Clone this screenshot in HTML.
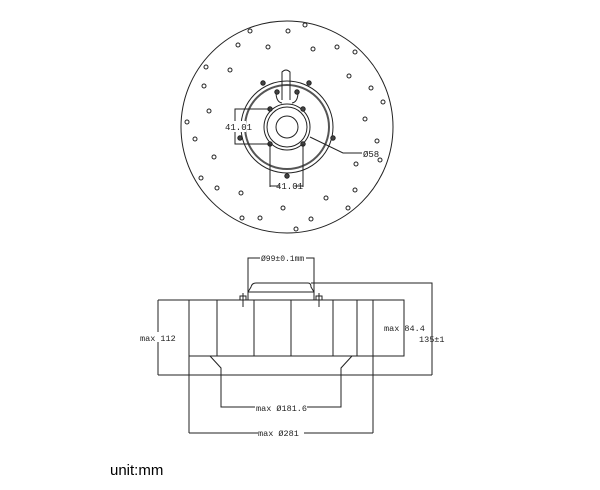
<!DOCTYPE html><html><head><style>body{margin:0;background:#fff}svg{display:block}</style></head><body>
<svg width="600" height="490" viewBox="0 0 600 490" xmlns="http://www.w3.org/2000/svg" font-family="Liberation Mono, monospace">
<g fill="none" stroke="#222" stroke-width="1">
<circle cx="287" cy="127" r="106"/>
<circle cx="287" cy="127" r="46"/>
<circle cx="287" cy="127" r="42" stroke-width="2" stroke="#555"/>
<circle cx="287" cy="127" r="23"/>
<circle cx="287" cy="127" r="20"/>
<circle cx="287" cy="127" r="11"/>
<path d="M282,100 V72 Q286,68 290,72 V100"/>
<path d="M276,92 Q276,102 282,103 M298,92 Q298,102 292,103"/>
<g fill="#fff">
<circle cx="250" cy="31" r="2"/><circle cx="288" cy="31" r="2"/><circle cx="305" cy="25" r="2"/><circle cx="238" cy="45" r="2"/><circle cx="268" cy="47" r="2"/><circle cx="313" cy="49" r="2"/><circle cx="337" cy="47" r="2"/><circle cx="355" cy="52" r="2"/><circle cx="206" cy="67" r="2"/><circle cx="230" cy="70" r="2"/><circle cx="349" cy="76" r="2"/><circle cx="204" cy="86" r="2"/><circle cx="371" cy="88" r="2"/><circle cx="383" cy="102" r="2"/><circle cx="209" cy="111" r="2"/><circle cx="365" cy="119" r="2"/><circle cx="187" cy="122" r="2"/><circle cx="195" cy="139" r="2"/><circle cx="377" cy="141" r="2"/><circle cx="380" cy="160" r="2"/><circle cx="214" cy="157" r="2"/><circle cx="356" cy="164" r="2"/><circle cx="201" cy="178" r="2"/><circle cx="217" cy="188" r="2"/><circle cx="241" cy="193" r="2"/><circle cx="355" cy="190" r="2"/><circle cx="326" cy="198" r="2"/><circle cx="283" cy="208" r="2"/><circle cx="348" cy="208" r="2"/><circle cx="242" cy="218" r="2"/><circle cx="260" cy="218" r="2"/><circle cx="311" cy="219" r="2"/><circle cx="296" cy="229" r="2"/>
</g>
<g fill="#444">
<circle cx="270" cy="109" r="2.2"/><circle cx="303" cy="109" r="2.2"/><circle cx="270" cy="144" r="2.2"/><circle cx="303" cy="144" r="2.2"/>
<circle cx="263" cy="83" r="2.2"/><circle cx="309" cy="83" r="2.2"/><circle cx="277" cy="92" r="2.2"/><circle cx="297" cy="92" r="2.2"/><circle cx="240" cy="138" r="2.2"/><circle cx="333" cy="138" r="2.2"/><circle cx="287" cy="176" r="2.2"/>
</g>
<path d="M270,109 H235 V144 H270 M270,144 V187 M303,144 V187 M270,186 H280 M295,186 H303"/>
<path d="M310,137 L343,153 H362"/>
<!-- side view -->
<rect x="189" y="300" width="215" height="56"/>
<path d="M217,300 V356 M254,300 V356 M291,300 V356 M333,300 V356 M357,300 V356 M373,300 V433 M189,356 V433"/>
<path d="M210,356 L221,368 V407 H341 V368 L352,356"/>
<path d="M189,433 H373"/>
<path d="M248,300 V292 L251,287 Q252,283 256,283 H308 Q311,283 311,287 L314,292 V300 M248,292 H314"/>
<path d="M248,292 V258 H314 V292"/>
<path d="M243,293 V307 M240,296 H246 V300 H240Z M319,293 V307 M316,296 H322 V300 H316Z"/>
<path d="M158,300 H189 M158,300 V375 M158,375 H432 M311,283 H432 V375"/>
</g>
<g fill="#222" font-size="9">
<rect x="224" y="121" width="22" height="11" fill="#fff"/>
<text x="225" y="130">41.01</text>
<text x="276" y="189">41.01</text>
<text x="363" y="157">Ø58</text>
<rect x="260" y="253" width="46" height="10" fill="#fff"/>
<text x="261" y="261" font-size="8">Ø99±0.1mm</text>
<rect x="140" y="332" width="36" height="10" fill="#fff"/>
<text x="140" y="341" font-size="8.5">max 112</text>
<text x="384" y="331" font-size="8.5">max 84.4</text>
<text x="419" y="342" font-size="8.5">135±1</text>
<rect x="255" y="402" width="52" height="10" fill="#fff"/>
<text x="256" y="411" font-size="8.5">max Ø181.6</text>
<rect x="258" y="428" width="46" height="10" fill="#fff"/>
<text x="258" y="436" font-size="8.5">max Ø281</text>
</g>
<text x="110" y="475" font-family="Liberation Sans, sans-serif" font-size="15" fill="#000">unit:mm</text>
</svg>
</body></html>
